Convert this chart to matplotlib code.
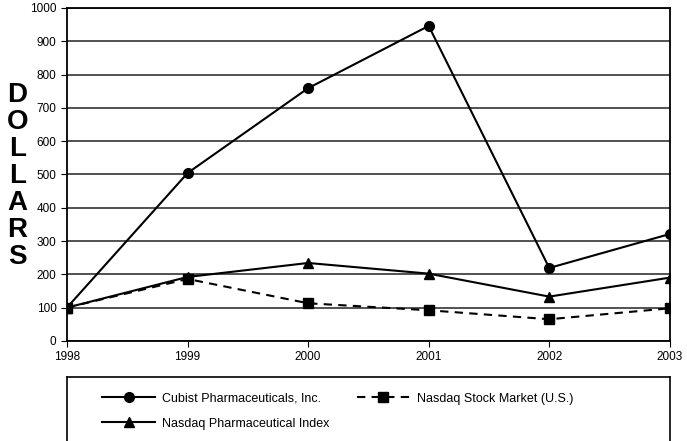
import matplotlib
matplotlib.use("Agg")
import matplotlib.pyplot as plt

plt.rcParams['font.family'] = ['Liberation Sans', 'DejaVu Sans']

years = [1998, 1999, 2000, 2001, 2002, 2003]
cubist = [100, 504, 759, 946, 219, 321]
pharma = [100, 192, 234, 202, 133, 190]
nasdaq = [100, 186, 113, 92, 65, 98]

fig = plt.figure(figsize=(6.87, 4.41), dpi=100)
ax = fig.add_axes([0.0975, 0.227, 0.8775, 0.755])

ax.plot(years, cubist, color='black', lw=1.5, marker='o', ms=7,
        label='Cubist Pharmaceuticals, Inc.', zorder=3)
ax.plot(years, nasdaq, color='black', lw=1.5, ls=(0, (4, 3)), marker='s', ms=7,
        label='Nasdaq Stock Market (U.S.)', zorder=3)
ax.plot(years, pharma, color='black', lw=1.5, marker='^', ms=7,
        label='Nasdaq Pharmaceutical Index', zorder=3)

ax.set_xlim(1998, 2003)
ax.set_ylim(0, 1000)
ax.set_yticks(range(0, 1001, 100))
ax.set_xticks(years)
ax.yaxis.grid(True, color='#333333', lw=1.2)
ax.set_axisbelow(True)
ax.tick_params(labelsize=8.5, length=4, color='black')
for s in ax.spines.values():
    s.set_linewidth(1.3)

fig.text(0.025, 0.6, "D\nO\nL\nL\nA\nR\nS", fontsize=20, fontweight='bold',
         ha='center', va='center', linespacing=1.05)

# legend box below the plot
lax = fig.add_axes([0.0975, -0.05, 0.8775, 0.195])
lax.set_xticks([])
lax.set_yticks([])
for s in lax.spines.values():
    s.set_linewidth(1.2)
h, l = ax.get_legend_handles_labels()
order = [0, 2, 1]
lax.legend([h[i] for i in order], [l[i] for i in order], ncol=2, frameon=False,
           fontsize=9, handlelength=4.2, handletextpad=0.6, columnspacing=2.2,
           loc='upper left', bbox_to_anchor=(0.04, 0.95), labelspacing=1.05)

fig.savefig('out.png', dpi=100)
